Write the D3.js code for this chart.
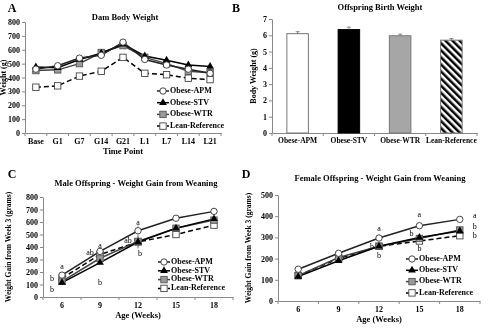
<!DOCTYPE html>
<html>
<head>
<meta charset="utf-8">
<script src="https://cdn.jsdelivr.net/npm/d3@7"></script>
<style>
  body { margin: 0; background: #fff; }
  svg { will-change: transform; }
  svg text { font-family: "Liberation Serif", "Times New Roman", serif; font-weight: bold; fill: #000; }
  .axis path, .axis line { stroke: #888; }
</style>
</head>
<body>
<div id="chart"></div>
<script>
// ---- Panel A: dam body weight ----
const timePoints = ["Base", "G1", "G7", "G14", "G21", "L1", "L7", "L14", "L21"];
const damAPM  = [460, 485, 540, 560, 655, 530, 490, 460, 430];
const damSTV  = [475, 470, 530, 575, 640, 555, 525, 490, 480];
const damWTR  = [450, 455, 500, 580, 630, 545, 500, 445, 435];
const damLean = [330, 340, 410, 445, 545, 430, 420, 395, 385];
const damErr  = [12, 12, 12, 12, 15, 18, 15, 18, 25];
const damTicks = [0, 100, 200, 300, 400, 500, 600, 700, 800];

// ---- Panel B: offspring birth weight ----
const groups = ["Obese-APM", "Obese-STV", "Obese-WTR", "Lean-Reference"];
const birthWeight = [6.1, 6.35, 5.97, 5.7];
const birthErr = [0.12, 0.15, 0.1, 0.1];
const birthTicks = [0, 1, 2, 3, 4, 5, 6, 7];

// ---- Panels C and D: weight gain from weaning ----
const weeks = [6, 9, 12, 15, 18];
const maleAPM  = [175, 365, 530, 630, 685];
const maleSTV  = [115, 275, 440, 550, 625];
const maleWTR  = [125, 310, 445, 550, 615];
const maleLean = [150, 340, 440, 500, 575];
const maleErr  = [15, 20, 50, 25, 20];
const maleTicks = [0, 100, 200, 300, 400, 500, 600, 700, 800];
const maleLetters = [
  {week: 6, v: 240, t: "a", dx: 0}, {week: 6, v: 144, t: "b", dx: -10}, {week: 6, v: 56, t: "b", dx: -10},
  {week: 9, v: 408, t: "a", dx: 0}, {week: 9, v: 352, t: "ab", dx: -10}, {week: 9, v: 112, t: "b", dx: 0},
  {week: 12, v: 592, t: "a", dx: 0}, {week: 12, v: 448, t: "ab", dx: -10}, {week: 12, v: 344, t: "b", dx: 2}
];

const femaleAPM  = [150, 225, 297, 355, 385];
const femaleSTV  = [115, 190, 258, 300, 330];
const femaleWTR  = [120, 205, 258, 295, 335];
const femaleLean = [120, 200, 258, 283, 308];
const femaleErr  = [8, 10, 12, 15, 15];
const femaleTicks = [0, 100, 200, 300, 400, 500];
const femaleLetters = [
  {week: 12, v: 340, t: "a", dx: 0}, {week: 12, v: 255, t: "b", dx: -7}, {week: 12, v: 212, t: "b", dx: 0},
  {week: 15, v: 405, t: "a", dx: 0}, {week: 15, v: 316, t: "b", dx: -8}, {week: 15, v: 245, t: "b", dx: 0},
  {week: 18, v: 398, t: "a", dx: 15}, {week: 18, v: 350, t: "b", dx: 15}, {week: 18, v: 308, t: "b", dx: 15}
];

const svg = d3.select("#chart").append("svg")
  .attr("width", 489).attr("height", 328);

// hatch pattern for lean bar
const defs = svg.append("defs");
defs.append("pattern")
  .attr("id", "hatch")
  .attr("patternUnits", "userSpaceOnUse")
  .attr("width", 5).attr("height", 5)
  .attr("patternTransform", "rotate(-45)")
  .append("rect")
    .attr("width", 2.5).attr("height", 5)
    .attr("fill", "#000");

// series styles shared by line panels
const seriesStyle = [
  {name: "Obese-APM", marker: "circle", fill: "#fff", stroke: "#333", line: "#222", dash: null},
  {name: "Obese-STV", marker: "triangle", fill: "#000", stroke: "#000", line: "#000", dash: null},
  {name: "Obese-WTR", marker: "square", fill: "#999", stroke: "#555", line: "#444", dash: null},
  {name: "Lean-Reference", marker: "square", fill: "#fff", stroke: "#444", line: "#000", dash: "5,3"}
];

function drawMarker(g, type, x, y, st) {
  if (type === "circle") {
    g.append("circle").attr("cx", x).attr("cy", y).attr("r", 3.2)
      .attr("fill", st.fill).attr("stroke", st.stroke).attr("stroke-width", 0.9);
  } else if (type === "triangle") {
    g.append("path").attr("d", d3.symbol(d3.symbolTriangle, 26)())
      .attr("transform", `translate(${x},${y})`).attr("fill", st.fill);
  } else {
    g.append("rect").attr("x", x - 3.2).attr("y", y - 3.2).attr("width", 6.4).attr("height", 6.4)
      .attr("fill", st.fill).attr("stroke", st.stroke).attr("stroke-width", 0.9);
  }
}

function yAxis(g, y, x0, ticks) {
  g.append("g").attr("class", "axis")
    .attr("transform", `translate(${x0},0)`)
    .call(d3.axisLeft(y).tickValues(ticks).tickFormat(d3.format("d"))
      .tickSize(3).tickPadding(2).tickSizeOuter(0))
    .selectAll("text").style("font-size", "8px");
}

function xAxisBand(g, x, y0, fontSize) {
  const ax = g.append("g").attr("class", "axis")
    .attr("transform", `translate(0,${y0})`)
    .call(d3.axisBottom(x).tickSize(0).tickPadding(5).tickSizeOuter(0));
  ax.selectAll("text").style("font-size", fontSize);
  // excel style ticks between categories
  const bounds = x.domain().map(d => x(d)).concat([x.range()[1]]);
  ax.selectAll(".sep").data(bounds).enter().append("line")
    .attr("x1", d => d).attr("x2", d => d).attr("y1", 0).attr("y2", 3)
    .attr("stroke", "#888");
}

function linePanel(opt) {
  const g = svg.append("g");
  const x = d3.scaleBand().domain(opt.cats).range(opt.xr);
  const y = d3.scaleLinear().domain([0, d3.max(opt.ticks)]).range(opt.yr);
  const cx = d => x(d) + x.bandwidth() / 2;

  yAxis(g, y, opt.xr[0], opt.ticks);
  xAxisBand(g, x, opt.yr[0], "8px");

  // error bars
  opt.series.forEach(vals => {
    g.selectAll(null).data(vals).enter().append("line")
      .attr("x1", (d, i) => cx(opt.cats[i])).attr("x2", (d, i) => cx(opt.cats[i]))
      .attr("y1", (d, i) => y(d - opt.err[i])).attr("y2", (d, i) => y(d + opt.err[i]))
      .attr("stroke", "#999").attr("stroke-width", 0.8);
  });

  // lines then markers (draw lean first so obese groups sit on top)
  const order = [3, 2, 1, 0];
  order.forEach(k => {
    const st = seriesStyle[k];
    const vals = opt.series[k];
    g.append("path")
      .datum(vals)
      .attr("d", d3.line().x((d, i) => cx(opt.cats[i])).y(d => y(d)))
      .attr("fill", "none").attr("stroke", st.line).attr("stroke-width", 1.5)
      .attr("stroke-dasharray", st.dash);
  });
  order.forEach(k => {
    const st = seriesStyle[k];
    opt.series[k].forEach((d, i) => drawMarker(g, st.marker, cx(opt.cats[i]), y(d), st));
  });

  // significance letters
  (opt.letters || []).forEach(l => {
    g.append("text").attr("x", cx(l.week) + l.dx).attr("y", y(l.v))
      .attr("text-anchor", "middle").attr("dominant-baseline", "middle")
      .style("font-size", "8px").style("font-weight", "normal").text(l.t);
  });

  // legend
  const lg = g.append("g").attr("transform", `translate(${opt.legend[0]},${opt.legend[1]})`);
  seriesStyle.forEach((st, i) => {
    const yy = i * opt.legendGap;
    lg.append("line").attr("x1", 0).attr("x2", 12).attr("y1", yy).attr("y2", yy)
      .attr("stroke", st.line).attr("stroke-width", 1.5).attr("stroke-dasharray", st.dash ? "3,2" : null);
    drawMarker(lg, st.marker, 6, yy, st);
    lg.append("text").attr("x", 13).attr("y", yy).attr("dominant-baseline", "middle")
      .style("font-size", "8px").text(st.name);
  });

  // titles
  g.append("text").attr("x", opt.titlePos[0]).attr("y", opt.titlePos[1])
    .attr("text-anchor", "middle").style("font-size", "8.5px").text(opt.title);
  g.append("text").attr("x", (opt.xr[0] + opt.xr[1]) / 2).attr("y", opt.xTitleY)
    .attr("text-anchor", "middle").style("font-size", "8.5px").text(opt.xTitle);
  g.append("text")
    .attr("transform", `translate(${opt.yTitleX},${(opt.yr[0] + opt.yr[1]) / 2}) rotate(-90)`)
    .attr("text-anchor", "middle").style("font-size", opt.yTitleSize || "8px").text(opt.yTitle);
}

// Panel A
linePanel({
  cats: timePoints, xr: [25, 221], yr: [133, 22], ticks: damTicks,
  series: [damAPM, damSTV, damWTR, damLean], err: damErr,
  legend: [157, 91], legendGap: 11.7,
  title: "Dam Body Weight", titlePos: [125, 20],
  xTitle: "Time Point", xTitleY: 154, yTitle: "Weight (g)", yTitleX: 6
});

// Panel C
linePanel({
  cats: weeks, xr: [43, 233], yr: [297, 197], ticks: maleTicks,
  series: [maleAPM, maleSTV, maleWTR, maleLean], err: maleErr, letters: maleLetters,
  legend: [158, 262], legendGap: 8.8,
  title: "Male Offspring - Weight Gain from Weaning", titlePos: [136, 186],
  xTitle: "Age (Weeks)", xTitleY: 318, yTitle: "Weight Gain from Week 3 (grams)", yTitleX: 11,
  yTitleSize: "7.5px"
});

// Panel D
linePanel({
  cats: weeks, xr: [278, 480], yr: [301, 195], ticks: femaleTicks,
  series: [femaleAPM, femaleSTV, femaleWTR, femaleLean], err: femaleErr, letters: femaleLetters,
  legend: [406, 259], legendGap: 11.3,
  title: "Female Offspring - Weight Gain from Weaning", titlePos: [380, 181],
  xTitle: "Age (Weeks)", xTitleY: 322, yTitle: "Weight Gain from Week 3 (grams)", yTitleX: 251,
  yTitleSize: "7.5px"
});

// Panel B: bar chart
(function() {
  const g = svg.append("g");
  const x = d3.scaleBand().domain(groups).range([272, 477]).paddingInner(0.58).paddingOuter(0.29);
  const y = d3.scaleLinear().domain([0, 7]).range([133, 19]);
  const barFill = ["#fff", "#000", "#a6a6a6", "url(#hatch)"];
  const barStroke = ["#777", "#000", "#777", "#777"];

  yAxis(g, y, 272, birthTicks);
  const xb = d3.scaleBand().domain(groups).range([272, 477]);
  xAxisBand(g, xb, 133, "7.5px");

  g.selectAll(".bar").data(birthWeight).enter().append("rect")
    .attr("x", (d, i) => x(groups[i]))
    .attr("y", d => y(d))
    .attr("width", x.bandwidth())
    .attr("height", d => y(0) - y(d))
    .attr("fill", (d, i) => barFill[i])
    .attr("stroke", (d, i) => barStroke[i]).attr("stroke-width", 1);

  g.selectAll(".err").data(birthWeight).enter().append("path")
    .attr("d", (d, i) => {
      const cx = x(groups[i]) + x.bandwidth() / 2;
      return `M${cx},${y(d)}V${y(d + birthErr[i])}M${cx - 2},${y(d + birthErr[i])}H${cx + 2}`;
    })
    .attr("stroke", "#666").attr("stroke-width", 0.8).attr("fill", "none");

  g.append("text").attr("x", 380).attr("y", 10).attr("text-anchor", "middle")
    .style("font-size", "8.5px").text("Offspring Birth Weight");
  g.append("text").attr("transform", "translate(256,76) rotate(-90)")
    .attr("text-anchor", "middle").style("font-size", "8px").text("Body Weight (g)");
})();

// panel letters
[["A", 12, 12], ["B", 236, 12], ["C", 12, 178], ["D", 246, 178]].forEach(p => {
  svg.append("text").attr("x", p[1]).attr("y", p[2]).attr("text-anchor", "middle")
    .style("font-size", "12px").text(p[0]);
});
</script>
</body>
</html>
